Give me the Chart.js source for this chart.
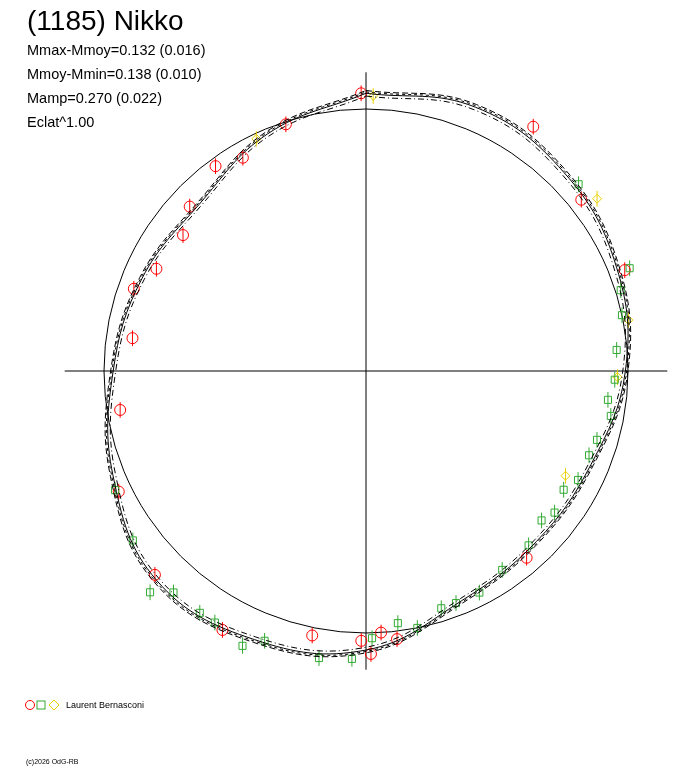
<!DOCTYPE html>
<html><head><meta charset="utf-8">
<script src="https://cdn.jsdelivr.net/npm/chart.js@4"></script>
<style>html,body{margin:0;padding:0;background:#fff;overflow:hidden}
#t{position:absolute;left:27px;top:4px;font-family:Arial,"Liberation Sans",sans-serif;color:#000}
#t .h{font-size:28px;line-height:34px}
#t .s{font-size:14.5px;line-height:24px}
#lg{position:absolute;left:66px;top:700px;font:9px Arial,"Liberation Sans",sans-serif}
#cp{position:absolute;left:26px;top:758px;font:7px Arial,"Liberation Sans",sans-serif}
</style></head><body>
<canvas id="c" width="688" height="768"></canvas>
<div id="t"><div class="h">(1185) Nikko</div>
<div class="s">Mmax-Mmoy=0.132 (0.016)</div>
<div class="s">Mmoy-Mmin=0.138 (0.010)</div>
<div class="s">Mamp=0.270 (0.022)</div>
<div class="s">Eclat^1.00</div></div>
<div id="lg">Laurent Bernasconi</div>
<div id="cp">(c)2026 OdG-RB</div>
<script>
// model curve: phase (deg, clockwise from top) and relative radius
const modelPhase = [0,22.5,45,67.5,90,112.5,135,157.5,180,202.5,225,247.5,270,292.5,315,337.5];
const modelR = [1.06,1.09,1.07,1.035,0.99,0.93,0.92,0.95,1.065,1.11,1.13,1.045,0.965,0.925,0.9,0.98];
// observations
const redPhase = [359,34.4,51.5,68.7,342,330,323.7,313,306.6,296,289.5,278,261,244,226,209,191.5,181,179,176.7,173.4,139.3];
const redR = [1.06,1.13,1.05,1.06,0.99,0.94,0.97,0.92,0.87,0.89,0.94,0.90,0.95,1.05,1.12,1.13,1.03,1.03,1.08,1.00,1.03,0.94];
const greenPhase = [48.7,68.7,72.4,77.7,85.2,92,96.8,100.4,106.6,110.7,117.2,121,126.9,130.4,137,145.6,152.9,158.8,162.4,168.7,172.8,178.7,182.8,189.3,200.6,204.2,211,214.5,221,224.3,234,244.6];
const greenR = [1.08,1.08,1.02,1.00,0.96,0.95,0.93,0.95,0.92,0.91,0.91,0.88,0.90,0.88,0.91,0.92,0.95,0.95,0.95,1.00,0.97,1.02,1.10,1.11,1.10,1.15,1.12,1.12,1.12,1.18,1.10,1.06];
const yellowPhase = [1.5,334.7,53.3,79,91.4,117.7];
const yellowR = [1.05,0.98,1.10,1.02,0.96,0.86];
const errR = 0.03;

function toXY(ph, r){const a=ph*Math.PI/180;return {x:r*Math.sin(a), y:r*Math.cos(a)};}
function pts(P,R,k){const o=P.map((p,i)=>toXY(p,R[i]*(k||1)));return o;}
function closed(k){const o=pts(modelPhase,modelR,k);o.push(o[0]);return o;}

const deco={id:'deco',beforeDatasetsDraw(ch){
  const c=ch.ctx,a=ch.chartArea,xs=ch.scales.x,ys=ch.scales.y;
  const cx=xs.getPixelForValue(0),cy=ys.getPixelForValue(0);
  c.save();c.strokeStyle='#000';c.lineWidth=1;
  c.beginPath();c.moveTo(a.left,cy);c.lineTo(a.right,cy);c.moveTo(cx,a.top);c.lineTo(cx,a.bottom);c.stroke();
  c.beginPath();c.arc(cx,cy,xs.getPixelForValue(1)-cx,0,2*Math.PI);c.stroke();
  ch.data.datasets.forEach((d,i)=>{ if(!d.err) return;
    c.strokeStyle=d.borderColor;c.beginPath();
    d.data.forEach(p=>{const px=xs.getPixelForValue(p.x);
      c.moveTo(px,ys.getPixelForValue(p.y+errR));c.lineTo(px,ys.getPixelForValue(p.y-errR));});
    c.stroke();});
  c.restore();
},afterDraw(ch){
  const c=ch.ctx;c.save();c.lineWidth=1;
  c.strokeStyle='#ff0000';c.beginPath();c.arc(30,705,4.5,0,7);c.stroke();
  c.strokeStyle='#33aa33';c.strokeRect(37,701,8,8);
  c.strokeStyle='#e8d000';c.beginPath();c.moveTo(54,700);c.lineTo(59,705);c.lineTo(54,710);c.lineTo(49,705);c.closePath();c.stroke();
  c.restore();}};

const line=(k,dash)=>({type:'line',data:closed(k),borderColor:'#000',borderWidth:1,borderDash:dash,pointRadius:0,tension:0.4,fill:false});
new Chart(document.getElementById('c'),{
  type:'scatter',
  data:{datasets:[
    line(1,[]),line(1.01,[6,3]),line(0.99,[6,3,1,3]),line(1.005,[3,3]),
    {data:pts(greenPhase,greenR),err:true,borderColor:'#33aa33',backgroundColor:'transparent',pointStyle:'rect',pointRadius:5,borderWidth:1},
    {data:pts(redPhase,redR),err:true,borderColor:'#ff0000',backgroundColor:'transparent',pointStyle:'circle',pointRadius:5.5,borderWidth:1},
    {data:pts(yellowPhase,yellowR),err:true,borderColor:'#e8d000',backgroundColor:'transparent',pointStyle:'rectRot',pointRadius:4.5,borderWidth:1}
  ]},
  options:{responsive:false,animation:false,devicePixelRatio:1,
    layout:{padding:{left:64.7,right:20.7,top:72.3,bottom:98.3}},
    plugins:{legend:{display:false},tooltip:{enabled:false}},
    scales:{x:{display:false,min:-1.15,max:1.15},y:{display:false,min:-1.14,max:1.14}}},
  plugins:[deco]
});
</script></body></html>
